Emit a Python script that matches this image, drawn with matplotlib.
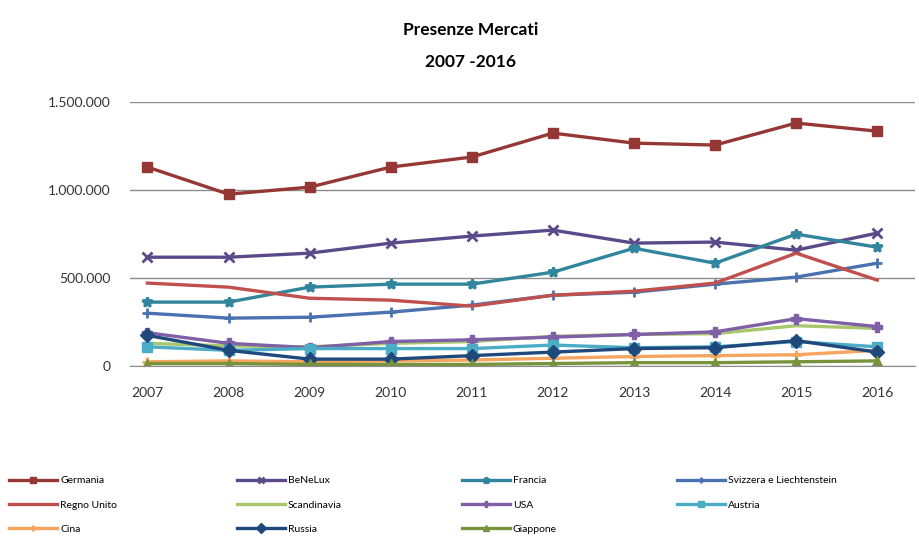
import matplotlib.pyplot as plt
from matplotlib.ticker import FuncFormatter

plt.rcParams['font.family'] = ['Lato', 'DejaVu Sans']

# Anni
years = ['2007', '2008', '2009', '2010', '2011', '2012', '2013', '2014', '2015', '2016']

# Presenze per mercato
germania = [1131000, 977000, 1017000, 1131000, 1188000, 1324000, 1267000, 1256000, 1381000, 1335000]
benelux = [619000, 619000, 642000, 699000, 739000, 773000, 699000, 705000, 659000, 756000]
francia = [364000, 364000, 449000, 466000, 466000, 534000, 670000, 585000, 750000, 676000]
svizzera = [301000, 273000, 278000, 307000, 347000, 403000, 420000, 466000, 506000, 585000]
regno_unito = [472000, 449000, 386000, 375000, 341000, 403000, 426000, 472000, 642000, 489000]
scandinavia = [130000, 115000, 110000, 130000, 140000, 170000, 180000, 185000, 230000, 215000]
usa = [190000, 130000, 105000, 140000, 150000, 165000, 180000, 195000, 270000, 225000]
austria = [110000, 90000, 100000, 100000, 100000, 120000, 105000, 110000, 140000, 110000]
cina = [25000, 30000, 25000, 30000, 35000, 45000, 55000, 60000, 65000, 90000]
russia = [175000, 90000, 40000, 40000, 60000, 80000, 100000, 105000, 145000, 80000]
giappone = [15000, 15000, 10000, 10000, 10000, 15000, 20000, 20000, 25000, 30000]

series = [
    ('Germania', germania, '#953735', 's'),
    ('BeNeLux', benelux, '#5B4A8A', 'x'),
    ('Francia', francia, '#31859C', '*'),
    ('Svizzera e Liechtenstein', svizzera, '#4A72B0', '+'),
    ('Regno Unito', regno_unito, '#C0504D', None),
    ('Scandinavia', scandinavia, '#A8C66C', None),
    ('USA', usa, '#7F5FA6', 'P'),
    ('Austria', austria, '#4BACC6', 's'),
    ('Cina', cina, '#F6A55E', '+'),
    ('Russia', russia, '#1F497D', 'D'),
    ('Giappone', giappone, '#77933C', '^'),
]

fig = plt.figure(figsize=(9.19, 5.49), dpi=100)
ax = fig.add_axes([0.141, 0.333, 0.855, 0.481])

x = range(len(years))
handles = {}
for name, vals, col, mk in series:
    ln, = ax.plot(x, vals, color=col, lw=2.4, marker=mk, markersize=7,
                  markeredgewidth=2 if mk in ('x', '+', '*') else 1,
                  markerfacecolor=col, markeredgecolor=col, label=name)
    handles[name] = ln

ax.set_ylim(0, 1500000)
ax.set_xlim(-0.22, 9.47)
ax.set_yticks([0, 500000, 1000000, 1500000])
ax.yaxis.set_major_formatter(FuncFormatter(lambda v, p: f'{int(v):,}'.replace(',', '.')))
ax.set_xticks(list(x))
ax.set_xticklabels(years)
ax.grid(axis='y', color='#8c8c8c', lw=1)
ax.set_axisbelow(True)
for s in ['top', 'right', 'left']:
    ax.spines[s].set_visible(False)
ax.spines['bottom'].set_color('#8c8c8c')
ax.tick_params(length=0, labelsize=10, colors='#333333', pad=14)
ax.tick_params(axis='x', pad=15)

fig.text(0.512, 0.945, 'Presenze Mercati', ha='center', va='center', fontsize=12.5, fontweight='bold')
fig.text(0.512, 0.887, '2007 -2016', ha='center', va='center', fontsize=12.5, fontweight='bold')

# legenda: ordine per colonne
order = ['Germania', 'Regno Unito', 'Cina',
         'BeNeLux', 'Scandinavia', 'Russia',
         'Francia', 'USA', 'Giappone',
         'Svizzera e Liechtenstein', 'Austria']
fig.legend([handles[n] for n in order], order, ncol=4, loc='lower left',
           bbox_to_anchor=(0.0, 0.01), frameon=False, fontsize=7.5,
           handlelength=4.6, handletextpad=0.3, columnspacing=11.5,
           labelspacing=1.45, markerscale=0.7)

fig.savefig('out.png', dpi=100)
